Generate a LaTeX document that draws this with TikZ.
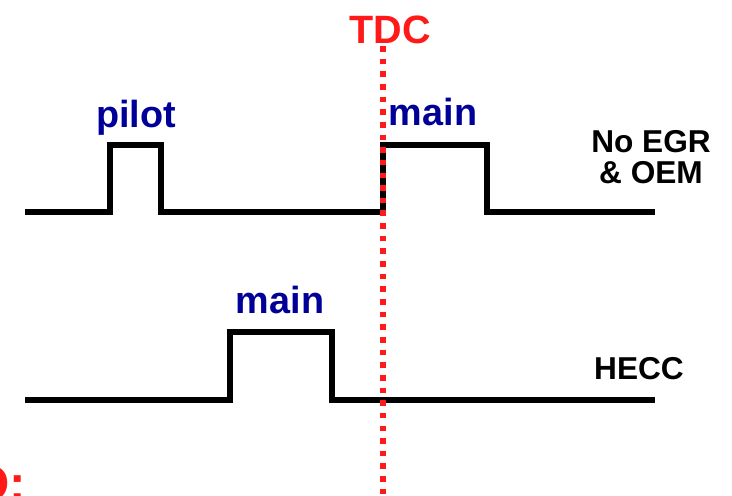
\documentclass[tikz,border=0pt]{standalone}
\usepackage{fontspec}
\setmainfont{Liberation Sans}
\usepackage{xcolor}
\definecolor{pulseblue}{rgb}{0.0,0.0,0.6}
\definecolor{tdcred}{rgb}{1.0,0.1,0.1}
\usetikzlibrary{positioning}

\begin{document}
\begin{tikzpicture}[x=0.02cm, y=-0.02cm,
	pulse/.style={draw=black, line width=3pt, line join=miter},
	tag/.style={font=\fontsize{21.5}{26}\selectfont\bfseries, text=pulseblue, inner sep=0pt, anchor=base},
	side/.style={font=\fontsize{18}{22}\selectfont\bfseries, inner sep=0pt, anchor=base},
	tdc/.style={draw=tdcred, line width=3.4pt, dash pattern=on 3.2pt off 4pt}
	]
\useasboundingbox (0,0) rectangle (732,495);

% injection traces
\draw[pulse] (25,212) -- (110,212) -- (110,145) -- (161,145) -- (161,212)
             -- (383,212) -- (383,145) -- (487,145) -- (487,212) -- (655,212);
\draw[pulse] (25,400) -- (230,400) -- (230,332) -- (332,332) -- (332,400) -- (655,400);

% top dead centre
\node[font=\fontsize{22.5}{27}\selectfont\bfseries, text=tdcred, inner sep=0pt, anchor=base] (tdclbl) at (390,43) {TDC};
\coordinate (tdctop) at (383,46);
\coordinate (tdcbot) at (383,497);
\draw[tdc] (tdctop) -- (tdcbot);

\node[tag] (pilot) at (136,127) {pilot};
\node[tag] (main1) at (433,125) {main};
\node[tag] (main2) at (280,313) {main};

\node[side] (noegr) at (651,152) {No EGR};
\node[side] (oem)   at (651,183) {\& OEM};
\node[side] (hecc)  at (639,379) {HECC};

% cut-off title
\node[font=\fontsize{28}{34}\selectfont\bfseries, text=tdcred, inner sep=0pt, anchor=base west] (cut) at (-29,500) {O:};
\end{tikzpicture}
\end{document}
